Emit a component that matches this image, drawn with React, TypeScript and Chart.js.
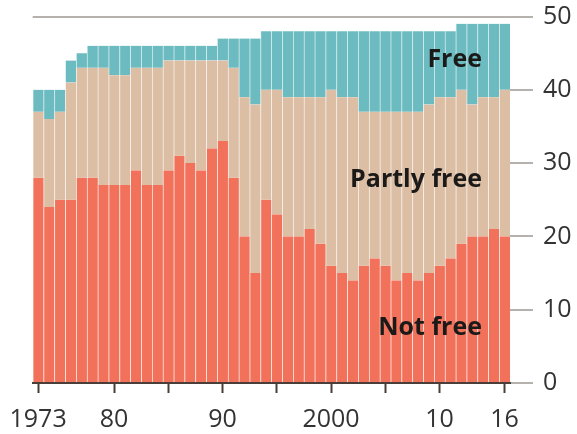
import React, { useEffect, useRef } from "react";
import { Chart, registerables } from "chart.js";

Chart.register(...registerables);

const years = [
  "1973", "1974", "1975", "1976", "1977", "1978", "1979", "1980", "1981", "1982",
  "1983", "1984", "1985", "1986", "1987", "1988", "1989", "1990", "1991", "1992",
  "1993", "1994", "1995", "1996", "1997", "1998", "1999", "2000", "2001", "2002",
  "2003", "2004", "2005", "2006", "2007", "2008", "2009", "2010", "2011", "2012",
  "2013", "2014", "2015", "2016",
];

const notFree = [
  28, 24, 25, 25, 28, 28, 27, 27, 27, 29,
  27, 27, 29, 31, 30, 29, 32, 33, 28, 20,
  15, 25, 23, 20, 20, 21, 19, 16, 15, 14,
  16, 17, 16, 14, 15, 14, 15, 16, 17, 19,
  20, 20, 21, 20,
];

const partlyFree = [
  9, 12, 12, 16, 15, 15, 16, 15, 15, 14,
  16, 16, 15, 13, 14, 15, 12, 11, 15, 19,
  23, 15, 17, 19, 19, 18, 20, 24, 24, 25,
  21, 20, 21, 23, 22, 23, 23, 23, 22, 21,
  18, 19, 18, 20,
];

const free = [
  3, 4, 3, 3, 2, 3, 3, 4, 4, 3,
  3, 3, 2, 2, 2, 2, 2, 3, 4, 8,
  9, 8, 8, 9, 9, 9, 9, 8, 9, 9,
  11, 11, 11, 11, 11, 11, 10, 9, 9, 9,
  11, 10, 10, 9,
];

const tickYears = ["1973", "1980", "1985", "1990", "1995", "2000", "2005", "2010", "2016"];
const tickLabels: Record<string, string> = {
  "1973": "1973",
  "1980": "80",
  "1990": "90",
  "2000": "2000",
  "2010": "10",
  "2016": "16",
};
const yTicks = [0, 10, 20, 30, 40, 50];

const annotations = [
  { text: "Free", value: 44.1 },
  { text: "Partly free", value: 27.7 },
  { text: "Not free", value: 7.5 },
];

const FONT = "'Open Sans', 'Noto Sans', sans-serif";

const labelPlugin = {
  id: "seriesLabels",
  afterDatasetsDraw(chart: any) {
    const { ctx, chartArea, scales } = chart;
    ctx.save();
    ctx.font = `bold 25px ${FONT}`;
    ctx.fillStyle = "#1c1a19";
    ctx.textAlign = "right";
    ctx.textBaseline = "middle";
    for (const a of annotations) {
      ctx.fillText(a.text, chartArea.right - 28, scales.y.getPixelForValue(a.value));
    }
    ctx.restore();
  },
};

export default function App() {
  const ref = useRef<HTMLCanvasElement>(null);

  useEffect(() => {
    if (!ref.current) return;
    const chart = new Chart(ref.current, {
      type: "bar",
      data: {
        labels: years,
        datasets: [
          {
            label: "Not free",
            data: notFree,
            backgroundColor: "#f1715b",
            borderColor: "rgba(255,225,210,0.18)",
            borderWidth: { left: 1, right: 0, top: 0, bottom: 0 },
            borderSkipped: false,
            barPercentage: 1,
            categoryPercentage: 1,
          },
          {
            label: "Partly free",
            data: partlyFree,
            backgroundColor: "#dcbea4",
            borderColor: "rgba(240,225,210,0.25)",
            borderWidth: { left: 1, right: 0, top: 0, bottom: 0 },
            borderSkipped: false,
            barPercentage: 1,
            categoryPercentage: 1,
          },
          {
            label: "Free",
            data: free,
            backgroundColor: "#6bbbc0",
            borderColor: "rgba(150,210,212,0.25)",
            borderWidth: { left: 1, right: 0, top: 0, bottom: 0 },
            borderSkipped: false,
            barPercentage: 1,
            categoryPercentage: 1,
          },
        ],
      },
      options: {
        animation: false,
        responsive: false,
        maintainAspectRatio: false,
        layout: { padding: { left: 32.7, top: 16.5, right: 0, bottom: 0 } },
        plugins: {
          legend: { display: false },
          tooltip: { enabled: false },
          title: { display: false },
        },
        scales: {
          x: {
            stacked: true,
            offset: true,
            afterFit: (s: any) => {
              s.height = 51;
              s.paddingLeft = 0;
              s.paddingRight = 0;
            },
            grid: {
              offset: false,
              drawOnChartArea: false,
              drawTicks: true,
              tickLength: 10,
              tickWidth: 2,
              tickColor: (c: any) =>
                c.tick && tickYears.includes(years[c.index]) ? "#4a3e38" : "rgba(0,0,0,0)",
            },
            border: { display: true, color: "#4a3e38", width: 2 },
            ticks: {
              autoSkip: false,
              maxRotation: 0,
              padding: 12,
              color: "#333",
              font: { family: FONT, size: 25 },
              callback: (_v: any, i: number) => tickLabels[years[i]] ?? "",
            },
          },
          y: {
            stacked: true,
            position: "right",
            min: 0,
            max: 50,
            afterFit: (s: any) => {
              s.width = 67;
              s.paddingTop = 0;
              s.paddingBottom = 0;
            },
            afterBuildTicks: (s: any) => {
              s.ticks = yTicks.map((v) => ({ value: v }));
            },
            grid: {
              drawOnChartArea: true,
              color: (c: any) => (c.tick && c.tick.value === 50 ? "#b5b1ad" : "rgba(0,0,0,0)"),
              lineWidth: 2,
              drawTicks: true,
              tickLength: 23,
              tickWidth: 2,
              tickColor: "#b5b1ad",
            },
            border: { display: false },
            ticks: {
              padding: 10,
              color: "#333",
              font: { family: FONT, size: 25 },
            },
          },
        },
      },
      plugins: [labelPlugin],
    });
    return () => chart.destroy();
  }, []);

  return (
    <div style={{ position: "fixed", left: 0, top: 0, width: 577, height: 434, background: "#fff" }}>
      <canvas ref={ref} width={577} height={434} style={{ width: 577, height: 434 }} />
    </div>
  );
}
